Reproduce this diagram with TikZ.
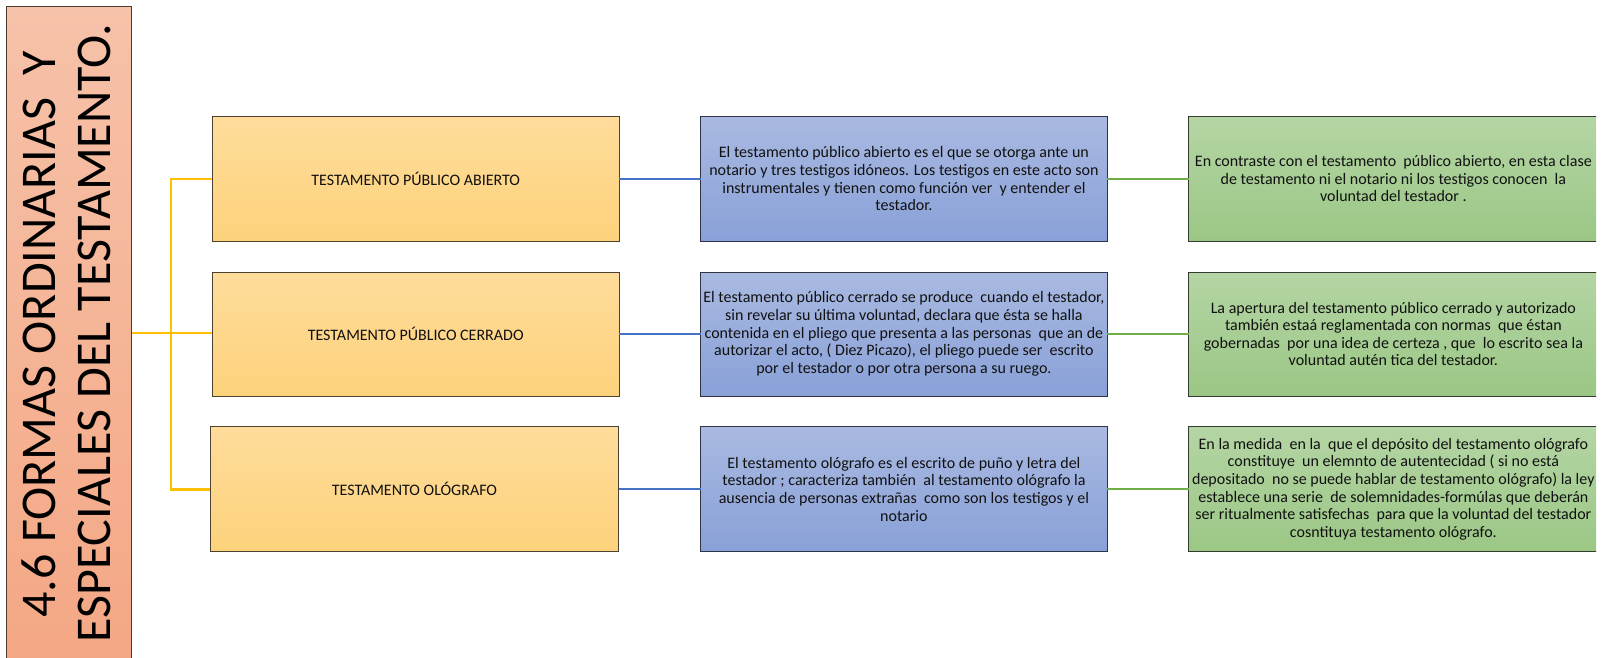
\documentclass[tikz,border=0pt]{standalone}
\usepackage{fontspec}
\setmainfont{Carlito}
\definecolor{ttop}{HTML}{F6C2A9}
\definecolor{tbot}{HTML}{F4A784}
\definecolor{tbrd}{HTML}{4A3B30}
\definecolor{otop}{HTML}{FFDC9B}
\definecolor{obot}{HTML}{FDD27B}
\definecolor{obrd}{HTML}{4B4231}
\definecolor{btop}{HTML}{A9B9E1}
\definecolor{bbot}{HTML}{89A1D8}
\definecolor{bbrd}{HTML}{2E3443}
\definecolor{gtop}{HTML}{B4D5A4}
\definecolor{gbot}{HTML}{9BC785}
\definecolor{gbrd}{HTML}{343B30}
\definecolor{ylin}{HTML}{FFC000}
\definecolor{blin}{HTML}{4472C4}
\definecolor{glin}{HTML}{70AD47}
\definecolor{txt}{HTML}{111111}
\tikzset{
  boxbase/.style={rectangle, inner sep=0pt, outer sep=0pt, line width=1pt,
    align=center, text=txt, font=\fontsize{16}{17.6}\selectfont},
  obox/.style={boxbase, draw=obrd, top color=otop, bottom color=obot},
  bbox/.style={boxbase, draw=bbrd, top color=btop, bottom color=bbot},
  gbox/.style={boxbase, draw=gbrd, top color=gtop, bottom color=gbot},
  tbox/.style={rectangle, inner sep=0pt, outer sep=0pt, line width=1pt,
    draw=tbrd, top color=ttop, bottom color=tbot},
  ttext/.style={anchor=base, rotate=90, inner sep=0pt, text=black,
    font=\fontsize{50}{56}\selectfont},
  yline/.style={draw=ylin, line width=2.6pt},
  bline/.style={draw=blin, line width=2.4pt},
  gline/.style={draw=glin, line width=2.4pt},
}
\begin{document}
\begin{tikzpicture}[x=1pt, y=-1pt]
\useasboundingbox (0,0) rectangle (1602,657);
\clip (0,0) rectangle (1596,657);
% title
\node[tbox, minimum width=125pt, minimum height=660pt] (title) at (69.2,336.7) {};
\node[ttext] (t1) at (55,334) {4.6 FORMAS ORDINARIAS~ Y};
\node[ttext] (t2) at (110.7,333) {ESPECIALES DEL TESTAMENTO.};
% level 1 boxes
\node[obox, minimum width=407.2pt, minimum height=124.3pt] (o1) at (415.7,178.85) {TESTAMENTO PÚBLICO ABIERTO};
\node[obox, minimum width=407.2pt, minimum height=124pt] (o2) at (415.7,334) {TESTAMENTO PÚBLICO CERRADO};
\node[obox, minimum width=408.5pt, minimum height=125pt] (o3) at (414.45,489.2) {TESTAMENTO OLÓGRAFO};
% level 2 boxes
\node[bbox, minimum width=406.8pt, minimum height=124.3pt] (b1) at (903.9,178.85)
  {El testamento público abierto es el que se otorga ante un\\
   notario y tres testigos idóneos. Los testigos en este acto son\\
   instrumentales y tienen como función ver~ y entender el\\
   testador.};
\node[bbox, minimum width=406.8pt, minimum height=124pt] (b2) at (903.9,334)
  {El testamento público cerrado se produce~ cuando el testador,\\
   sin revelar su última voluntad, declara que ésta se halla\\
   contenida en el pliego que presenta a las personas~ que an de\\
   autorizar el acto, ( Diez Picazo), el pliego puede ser~ escrito\\
   por el testador o por otra persona a su ruego.};
\node[bbox, minimum width=406.8pt, minimum height=125pt] (b3) at (903.9,489.2)
  {El testamento ológrafo es el escrito de puño y letra del\\
   testador ; caracteriza también~ al testamento ológrafo la\\
   ausencia de personas extrañas~ como son los testigos y el\\
   notario};
% level 3 boxes
\node[gbox, minimum width=409.3pt, minimum height=124.3pt] (g1) at (1393.35,178.85)
  {En contraste con el testamento~ público abierto, en esta clase\\
   de testamento ni el notario ni los testigos conocen~ la\\
   voluntad del testador .};
\node[gbox, minimum width=409.3pt, minimum height=124pt] (g2) at (1393.35,334)
  {La apertura del testamento público cerrado y autorizado\\
   también estaá reglamentada con normas~ que éstan\\
   gobernadas~ por una idea de certeza , que~ lo escrito sea la\\
   voluntad autén tica del testador.};
\node[gbox, minimum width=409.3pt, minimum height=125pt] (g3) at (1393.35,489.2)
  {En la medida~ en la~ que el depósito del testamento ológrafo\\
   constituye~ un elemnto de autentecidad ( si no está\\
   depositado~ no se puede hablar de testamento ológrafo) la ley\\
   establece una serie~ de solemnidades-formúlas que deberán\\
   ser ritualmente satisfechas~ para que la voluntad del testador\\
   cosntituya testamento ológrafo.};
% connectors
\coordinate (j) at (171,333);
\draw[yline] (title.east |- j) -- (o2.west |- j);
\draw[yline] (o1.west) -| (j) |- (o3.west);
\draw[bline] (o1.east) -- (b1.west);
\draw[bline] (o2.east) -- (b2.west);
\draw[bline] (o3.east) -- (b3.west);
\draw[gline] (b1.east) -- (g1.west);
\draw[gline] (b2.east) -- (g2.west);
\draw[gline] (b3.east) -- (g3.west);
\end{tikzpicture}
\end{document}
